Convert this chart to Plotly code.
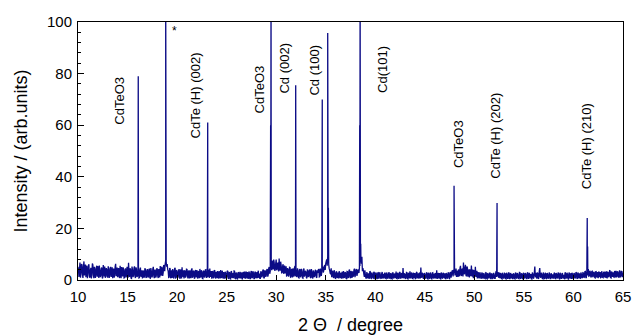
import numpy as np
import plotly.graph_objects as go

# Background scan: intensity every 0.1 degree from 10.0 to 65.0 (one row per degree)
background = [
    5.1, 1.2, 6.8, 2.4, 5.9, 0.8, 7.2, 2.8, 1.1, 5.6,   # 10
    2.4, 6.1, 0.9, 4.7, 1.8, 5.9, 0.7, 4.3, 1.6, 5.5,   # 11
    5.4, 0.8, 3.9, 1.7, 4.8, 0.9, 4.3, 5.2, 1.2, 4.1,   # 12
    0.9, 4.7, 1.6, 5.1, 2.1, 0.7, 4.4, 1.9, 6.3, 2.5,   # 13
    1.1, 4.6, 0.8, 3.8, 5.0, 1.4, 4.2, 0.9, 4.5, 1.8,   # 14
    3.6, 6.7, 1.2, 4.1, 0.6, 3.9, 1.7, 5.3, 0.8, 4.2,   # 15
    1.5, 4.4, 0.9, 4.8, 1.6, 0.6, 3.7, 1.3, 4.1, 0.9,   # 16
    4.2, 1.0, 4.4, 0.7, 3.5, 1.4, 5.1, 0.7, 3.8, 1.6,   # 17
    4.3, 0.8, 3.1, 5.4, 1.7, 4.6, 2.9, 5.2, 6.1, 7.0,   # 18
    6.2, 3.5, 1.1, 4.4, 1.0, 0.8, 3.6, 1.2, 4.7, 0.9,   # 19
    3.3, 1.1, 4.2, 0.5, 3.0, 4.9, 1.4, 0.6, 3.7, 1.6,   # 20
    4.1, 0.6, 2.9, 3.8, 0.7, 4.5, 1.3, 3.4, 0.8, 2.7,   # 21
    3.9, 0.6, 2.8, 4.3, 1.0, 3.2, 0.5, 3.6, 1.5, 4.0,   # 22
    3.4, 1.2, 3.7, 4.4, 1.6, 0.5, 3.3, 1.1, 3.8, 0.6,   # 23
    2.9, 3.5, 0.6, 2.4, 3.9, 0.8, 2.7, 3.1, 0.5, 2.6,   # 24
    1.2, 3.6, 0.6, 2.8, 0.4, 3.2, 1.1, 0.7, 3.4, 0.5,   # 25
    2.6, 0.4, 3.0, 1.3, 0.6, 2.9, 0.3, 2.5, 3.3, 0.8,   # 26
    2.4, 3.1, 0.5, 2.7, 0.5, 3.5, 1.0, 2.8, 0.4, 3.0,   # 27
    1.2, 0.7, 3.6, 2.5, 0.6, 3.0, 1.6, 4.1, 0.9, 3.4,   # 28
    1.8, 4.2, 2.1, 5.0, 3.4, 6.2, 7.5, 4.1, 6.8, 3.9,   # 29
    7.9, 4.2, 6.4, 8.3, 3.6, 5.8, 2.9, 6.1, 3.2, 2.5,   # 30
    5.3, 1.7, 4.1, 2.0, 4.8, 1.2, 3.7, 4.5, 1.4, 5.5,   # 31
    4.0, 1.4, 3.6, 0.8, 4.2, 1.6, 3.3, 0.7, 4.4, 1.9,   # 32
    3.1, 0.7, 3.8, 1.5, 4.1, 1.0, 3.4, 0.6, 3.0, 1.7,   # 33
    3.6, 0.9, 2.8, 4.2, 1.3, 3.5, 2.9, 5.2, 3.6, 5.8,   # 34
    6.4, 8.0, 9.2, 6.1, 3.8, 2.2, 1.1, 3.6, 0.8, 2.9,   # 35
    0.6, 3.3, 1.2, 0.6, 3.0, 1.4, 0.5, 2.7, 3.5, 0.9,   # 36
    2.8, 0.5, 3.2, 1.0, 4.1, 0.7, 2.5, 3.4, 1.6, 4.4,   # 37
    2.1, 4.2, 2.6, 3.8, 4.8, 11.8, 6.3, 3.4, 3.6, 1.2,  # 38
    2.1, 0.6, 1.5, 2.6, 0.5, 3.2, 0.6, 2.4, 0.7, 2.9,   # 39
    0.7, 2.5, 0.4, 2.8, 0.9, 2.2, 0.5, 3.1, 1.0, 0.6,   # 40
    2.6, 0.5, 2.3, 0.8, 3.0, 0.6, 2.4, 0.4, 2.7, 0.9,   # 41
    2.1, 3.3, 0.5, 2.5, 0.7, 2.9, 0.8, 2.2, 4.6, 0.6,   # 42
    2.3, 0.7, 2.8, 0.4, 2.5, 3.4, 0.8, 2.6, 0.5, 2.2,   # 43
    2.7, 0.6, 3.1, 1.0, 0.5, 2.6, 4.8, 0.9, 2.4, 0.6,   # 44
    2.2, 0.8, 2.9, 0.4, 2.5, 0.7, 2.3, 0.4, 2.8, 1.0,   # 45
    0.6, 2.4, 3.8, 0.5, 2.1, 2.7, 0.4, 2.5, 0.8, 2.2,   # 46
    2.6, 0.5, 2.3, 0.9, 2.7, 0.5, 2.9, 2.2, 3.6, 3.1,   # 47
    4.0, 2.4, 1.2, 2.8, 4.1, 1.5, 5.5, 1.6, 4.3, 6.8,   # 48
    2.2, 5.9, 1.4, 4.7, 2.1, 1.0, 3.8, 5.6, 1.3, 0.7,   # 49
    3.5, 5.1, 1.2, 0.6, 2.8, 0.9, 2.4, 0.5, 2.6, 0.8,   # 50
    2.1, 0.5, 2.7, 0.4, 2.3, 0.9, 2.5, 0.5, 2.2, 0.7,   # 51
    2.0, 0.6, 3.4, 3.2, 3.1, 1.2, 0.6, 2.4, 0.4, 2.1,   # 52
    0.8, 2.5, 0.4, 2.3, 0.6, 2.7, 0.5, 2.0, 2.4, 0.5,   # 53
    2.2, 0.4, 2.6, 0.8, 2.1, 0.5, 2.8, 0.7, 2.3, 0.4,   # 54
    2.5, 0.9, 2.2, 0.5, 2.7, 0.6, 2.0, 2.3, 0.4, 2.4,   # 55
    0.8, 5.2, 1.1, 0.5, 2.6, 0.7, 4.6, 0.9, 2.2, 0.5,   # 56
    2.3, 0.6, 2.5, 0.4, 2.1, 0.8, 2.4, 0.5, 2.0, 2.2,   # 57
    0.7, 2.6, 0.5, 2.3, 0.9, 2.5, 0.4, 2.1, 0.6, 2.4,   # 58
    2.0, 0.5, 2.7, 0.8, 2.2, 0.4, 2.5, 0.9, 0.4, 2.3,   # 59
    0.6, 2.4, 0.9, 2.8, 0.5, 2.2, 2.6, 0.7, 2.3, 1.0,   # 60
    2.7, 1.1, 3.3, 0.8, 3.5, 4.2, 1.6, 3.1, 1.2, 3.4,   # 61
    1.4, 2.9, 0.8, 3.2, 1.5, 0.7, 2.8, 3.1, 1.0, 2.6,   # 62
    0.9, 2.7, 3.3, 1.2, 0.6, 2.9, 1.4, 3.5, 0.8, 2.5,   # 63
    3.0, 1.1, 2.8, 3.6, 1.3, 2.9, 0.9, 3.4, 1.6, 3.2,   # 64
    2.8,                                                # 65
]
scan_start = 10.0
scan_step = 0.1

# Intermediate readings, half a step after each point above (10.05 ... 64.95)
background_mid = [
    3.5, 4.1, 0.9, 6.2, 2.1, 5.3, 1.8, 6.0, 4.4, 0.7,   # 10
    5.2, 1.5, 3.8, 0.6, 6.4, 2.2, 5.1, 0.8, 4.9, 1.3,   # 11
    2.7, 5.6, 1.1, 4.5, 0.7, 5.8, 1.4, 0.9, 4.6, 1.6,   # 12
    5.3, 0.8, 4.2, 1.2, 4.9, 3.6, 0.9, 5.2, 1.5, 4.8,   # 13
    4.0, 1.3, 5.5, 0.7, 2.4, 4.9, 0.8, 3.9, 1.0, 5.1,   # 14
    0.9, 2.8, 4.5, 0.7, 5.2, 1.1, 4.6, 1.4, 4.9, 1.2,   # 15
    3.9, 0.8, 4.1, 1.3, 3.8, 2.4, 0.9, 4.5, 1.1, 3.6,   # 16
    1.2, 3.9, 0.8, 4.6, 1.0, 4.3, 1.6, 4.0, 0.9, 4.5,   # 17
    1.4, 4.2, 1.0, 2.3, 5.1, 1.6, 5.8, 3.4, 7.6, 5.2,   # 18
    4.1, 1.0, 4.6, 0.7, 3.8, 4.2, 0.6, 4.4, 0.8, 3.9,   # 19
    0.8, 3.6, 1.2, 4.1, 0.6, 1.5, 3.8, 3.4, 0.9, 4.2,   # 20
    1.4, 3.7, 0.6, 1.5, 4.0, 0.9, 3.6, 0.7, 3.9, 1.1,   # 21
    0.9, 3.5, 0.7, 1.4, 3.8, 0.6, 3.4, 1.0, 3.9, 0.8,   # 22
    1.0, 3.9, 0.8, 1.3, 3.5, 3.2, 0.7, 3.6, 0.9, 3.1,   # 23
    0.7, 1.2, 3.4, 0.6, 1.1, 3.6, 0.5, 1.4, 3.2, 0.6,   # 24
    3.3, 0.7, 2.9, 0.5, 3.4, 0.8, 2.7, 3.5, 0.6, 2.9,   # 25
    0.5, 2.8, 0.7, 3.2, 2.6, 0.5, 3.1, 0.8, 0.6, 3.3,   # 26
    0.6, 0.8, 3.3, 0.5, 3.1, 0.7, 3.4, 0.6, 3.2, 0.7,   # 27
    3.1, 2.9, 0.8, 0.6, 3.4, 1.0, 3.7, 0.7, 3.8, 1.2,   # 28
    4.0, 1.3, 4.6, 2.4, 5.6, 3.8, 4.9, 7.9, 3.6, 6.4,   # 29
    3.8, 6.7, 3.3, 4.4, 7.1, 2.8, 5.4, 2.4, 5.6, 4.7,   # 30
    1.6, 4.6, 1.3, 4.9, 1.1, 4.3, 1.0, 1.8, 4.8, 1.5,   # 31
    1.2, 4.5, 0.9, 3.9, 1.1, 4.3, 0.8, 4.0, 1.3, 3.6,   # 32
    0.9, 3.9, 1.2, 3.6, 0.8, 4.2, 0.9, 3.7, 1.1, 4.0,   # 33
    1.1, 3.8, 4.0, 1.2, 4.4, 1.6, 4.8, 2.9, 5.3, 3.9,   # 34
    7.2, 5.5, 7.8, 4.4, 2.6, 4.5, 3.0, 1.2, 3.8, 0.7,   # 35
    3.1, 0.8, 2.9, 3.4, 0.7, 2.8, 3.2, 0.6, 1.1, 3.0,   # 36
    0.6, 3.3, 0.9, 3.6, 1.2, 3.5, 0.8, 1.3, 3.9, 1.1,   # 37
    3.9, 1.6, 4.0, 2.7, 5.4, 8.5, 9.0, 4.6, 2.2, 3.8,   # 38
    0.8, 3.1, 0.6, 1.1, 3.4, 0.7, 2.9, 0.8, 3.2, 0.6,   # 39
    2.9, 0.6, 2.7, 0.5, 3.0, 0.7, 2.6, 0.6, 2.4, 2.8,   # 40
    0.6, 2.9, 0.5, 2.7, 0.7, 2.6, 0.5, 2.9, 0.6, 2.5,   # 41
    0.7, 0.6, 2.8, 0.5, 3.1, 0.6, 2.7, 0.7, 1.5, 2.4,   # 42
    0.6, 2.9, 0.5, 2.7, 0.6, 0.8, 2.9, 0.6, 2.8, 0.7,   # 43
    0.5, 2.9, 0.7, 2.6, 2.8, 0.6, 1.2, 2.8, 0.6, 2.7,   # 44
    0.6, 2.7, 0.5, 2.8, 0.6, 2.9, 0.5, 2.7, 0.6, 2.5,   # 45
    2.6, 0.5, 0.9, 2.7, 0.6, 0.5, 2.9, 0.6, 2.8, 0.7,   # 46
    0.6, 2.7, 0.5, 2.9, 0.6, 2.8, 0.9, 3.5, 1.4, 4.2,   # 47
    1.8, 4.4, 3.6, 1.2, 1.9, 4.6, 2.0, 4.2, 1.4, 2.6,   # 48
    4.8, 1.9, 5.2, 1.3, 4.1, 3.9, 1.5, 2.2, 4.1, 3.6,   # 49
    1.3, 1.8, 3.6, 2.9, 0.7, 3.0, 0.8, 2.9, 0.6, 2.7,   # 50
    0.6, 2.8, 0.5, 2.7, 0.6, 2.9, 0.5, 2.6, 0.6, 2.8,   # 51
    0.6, 2.7, 1.2, 1.4, 0.9, 2.9, 2.6, 0.5, 2.8, 0.6,   # 52
    2.6, 0.5, 2.8, 0.6, 2.9, 0.5, 2.7, 0.6, 0.5, 2.6,   # 53
    0.5, 2.9, 0.6, 2.7, 0.6, 2.9, 0.5, 2.6, 0.6, 2.8,   # 54
    0.6, 2.7, 0.5, 2.9, 0.6, 2.8, 0.7, 0.5, 2.9, 0.6,   # 55
    2.7, 1.6, 2.8, 2.9, 0.5, 3.4, 1.3, 2.8, 0.6, 2.9,   # 56
    0.5, 2.8, 0.6, 2.7, 0.6, 2.9, 0.5, 2.6, 0.6, 0.7,   # 57
    2.8, 0.6, 2.7, 0.6, 2.9, 0.5, 2.8, 0.6, 2.7, 0.6,   # 58
    0.6, 2.9, 0.7, 2.8, 0.5, 2.9, 0.6, 2.7, 2.8, 0.6,   # 59
    2.7, 0.6, 3.0, 0.7, 2.9, 0.6, 0.8, 2.9, 0.7, 2.8,   # 60
    0.9, 3.2, 1.0, 3.4, 1.8, 1.5, 3.6, 1.2, 3.3, 1.1,   # 61
    3.2, 0.9, 3.4, 1.0, 3.1, 3.3, 1.1, 0.9, 3.4, 1.0,   # 62
    3.2, 1.0, 0.9, 3.4, 3.1, 1.1, 3.6, 0.9, 3.3, 1.2,   # 63
    1.2, 3.5, 1.0, 1.1, 3.4, 1.2, 3.5, 1.0, 3.3, 1.1,   # 64
]

# Sharp reflections (2-theta, intensity)
peak_pos = [16.08, 18.85, 23.09, 29.48, 31.97, 34.65, 35.20, 38.47, 47.95, 52.29, 61.39]
peak_int = [79.0, 112.0, 61.0, 112.0, 75.5, 70.0, 95.7, 118.0, 36.5, 29.8, 24.0]

# Shoulder points on the flanks of the stronger reflections
shoulder_pos = [29.44, 35.27, 38.43, 38.53, 61.43]
shoulder_int = [60.0, 28.0, 60.0, 14.0, 13.0]

# Phase labels
label_text = ["CdTeO3", "CdTe (H) (002)", "CdTeO3", "Cd (002)", "Cd (100)",
              "Cd(101)", "CdTeO3", "CdTe (H) (202)", "CdTe (H) (210)"]
label_x = [14.24, 21.9, 28.3, 30.8, 33.9, 40.8, 48.4, 52.1, 61.3]
label_y = [69.5, 71.5, 74.0, 82.0, 81.5, 81.5, 52.5, 56.0, 52.0]

x_ticks = [10, 15, 20, 25, 30, 35, 40, 45, 50, 55, 60, 65]
y_ticks = [0, 20, 40, 60, 80, 100]

# Merge background and reflections into one ordered pattern
bg_x = scan_start + scan_step * np.arange(len(background))
mid_x = scan_start + scan_step / 2 + scan_step * np.arange(len(background_mid))
all_x = np.concatenate([bg_x, mid_x, peak_pos, shoulder_pos])
all_y = np.concatenate([background, background_mid, peak_int, shoulder_int])
order = np.argsort(all_x, kind="stable")
pattern_x = all_x[order]
pattern_y = all_y[order]

FONT = "Liberation Sans, Arial, Helvetica, sans-serif"
NAVY = "#0b0b86"

fig = go.Figure()
fig.add_trace(go.Scatter(
    x=pattern_x, y=pattern_y, mode="lines",
    line=dict(color=NAVY, width=1.3, simplify=False),
    showlegend=False, hoverinfo="skip", cliponaxis=True,
))

for txt, lx, ly in zip(label_text, label_x, label_y):
    fig.add_annotation(x=lx, y=ly, text=txt, textangle=-90, showarrow=False,
                       font=dict(family=FONT, size=13, color="black"))

fig.add_annotation(x=19.7, y=96.5, text="*", showarrow=False,
                   font=dict(family=FONT, size=12, color="black"))

fig.update_layout(
    width=632, height=335,
    margin=dict(l=78, r=9, t=22, b=55),
    paper_bgcolor="white", plot_bgcolor="white",
    font=dict(family=FONT, color="black"),
)
fig.update_xaxes(
    range=[10, 65], tickvals=x_ticks, ticktext=[str(v) for v in x_ticks],
    ticks="inside", ticklen=5, tickcolor="black", tickwidth=1,
    showline=True, linecolor="black", linewidth=1, mirror=True,
    showgrid=False, zeroline=False, automargin=False,
    ticklabelstandoff=3,
    tickfont=dict(family=FONT, size=15, color="black"),
    title=dict(text="2 \u0398  / degree", font=dict(family=FONT, size=18), standoff=14),
)
fig.update_yaxes(
    range=[0, 100], tickvals=y_ticks, ticktext=[str(v) for v in y_ticks],
    ticks="inside", ticklen=6, tickcolor="black", tickwidth=1,
    minor=dict(dtick=4, ticks="inside", ticklen=3, tickcolor="black"),
    showline=True, linecolor="black", linewidth=1, mirror=True,
    showgrid=False, zeroline=False, automargin=False,
    ticklabelstandoff=2,
    tickfont=dict(family=FONT, size=15, color="black"),
    title=dict(text="Intensity / (arb.units)", font=dict(family=FONT, size=18), standoff=14),
)

fig.write_html("out.html")
